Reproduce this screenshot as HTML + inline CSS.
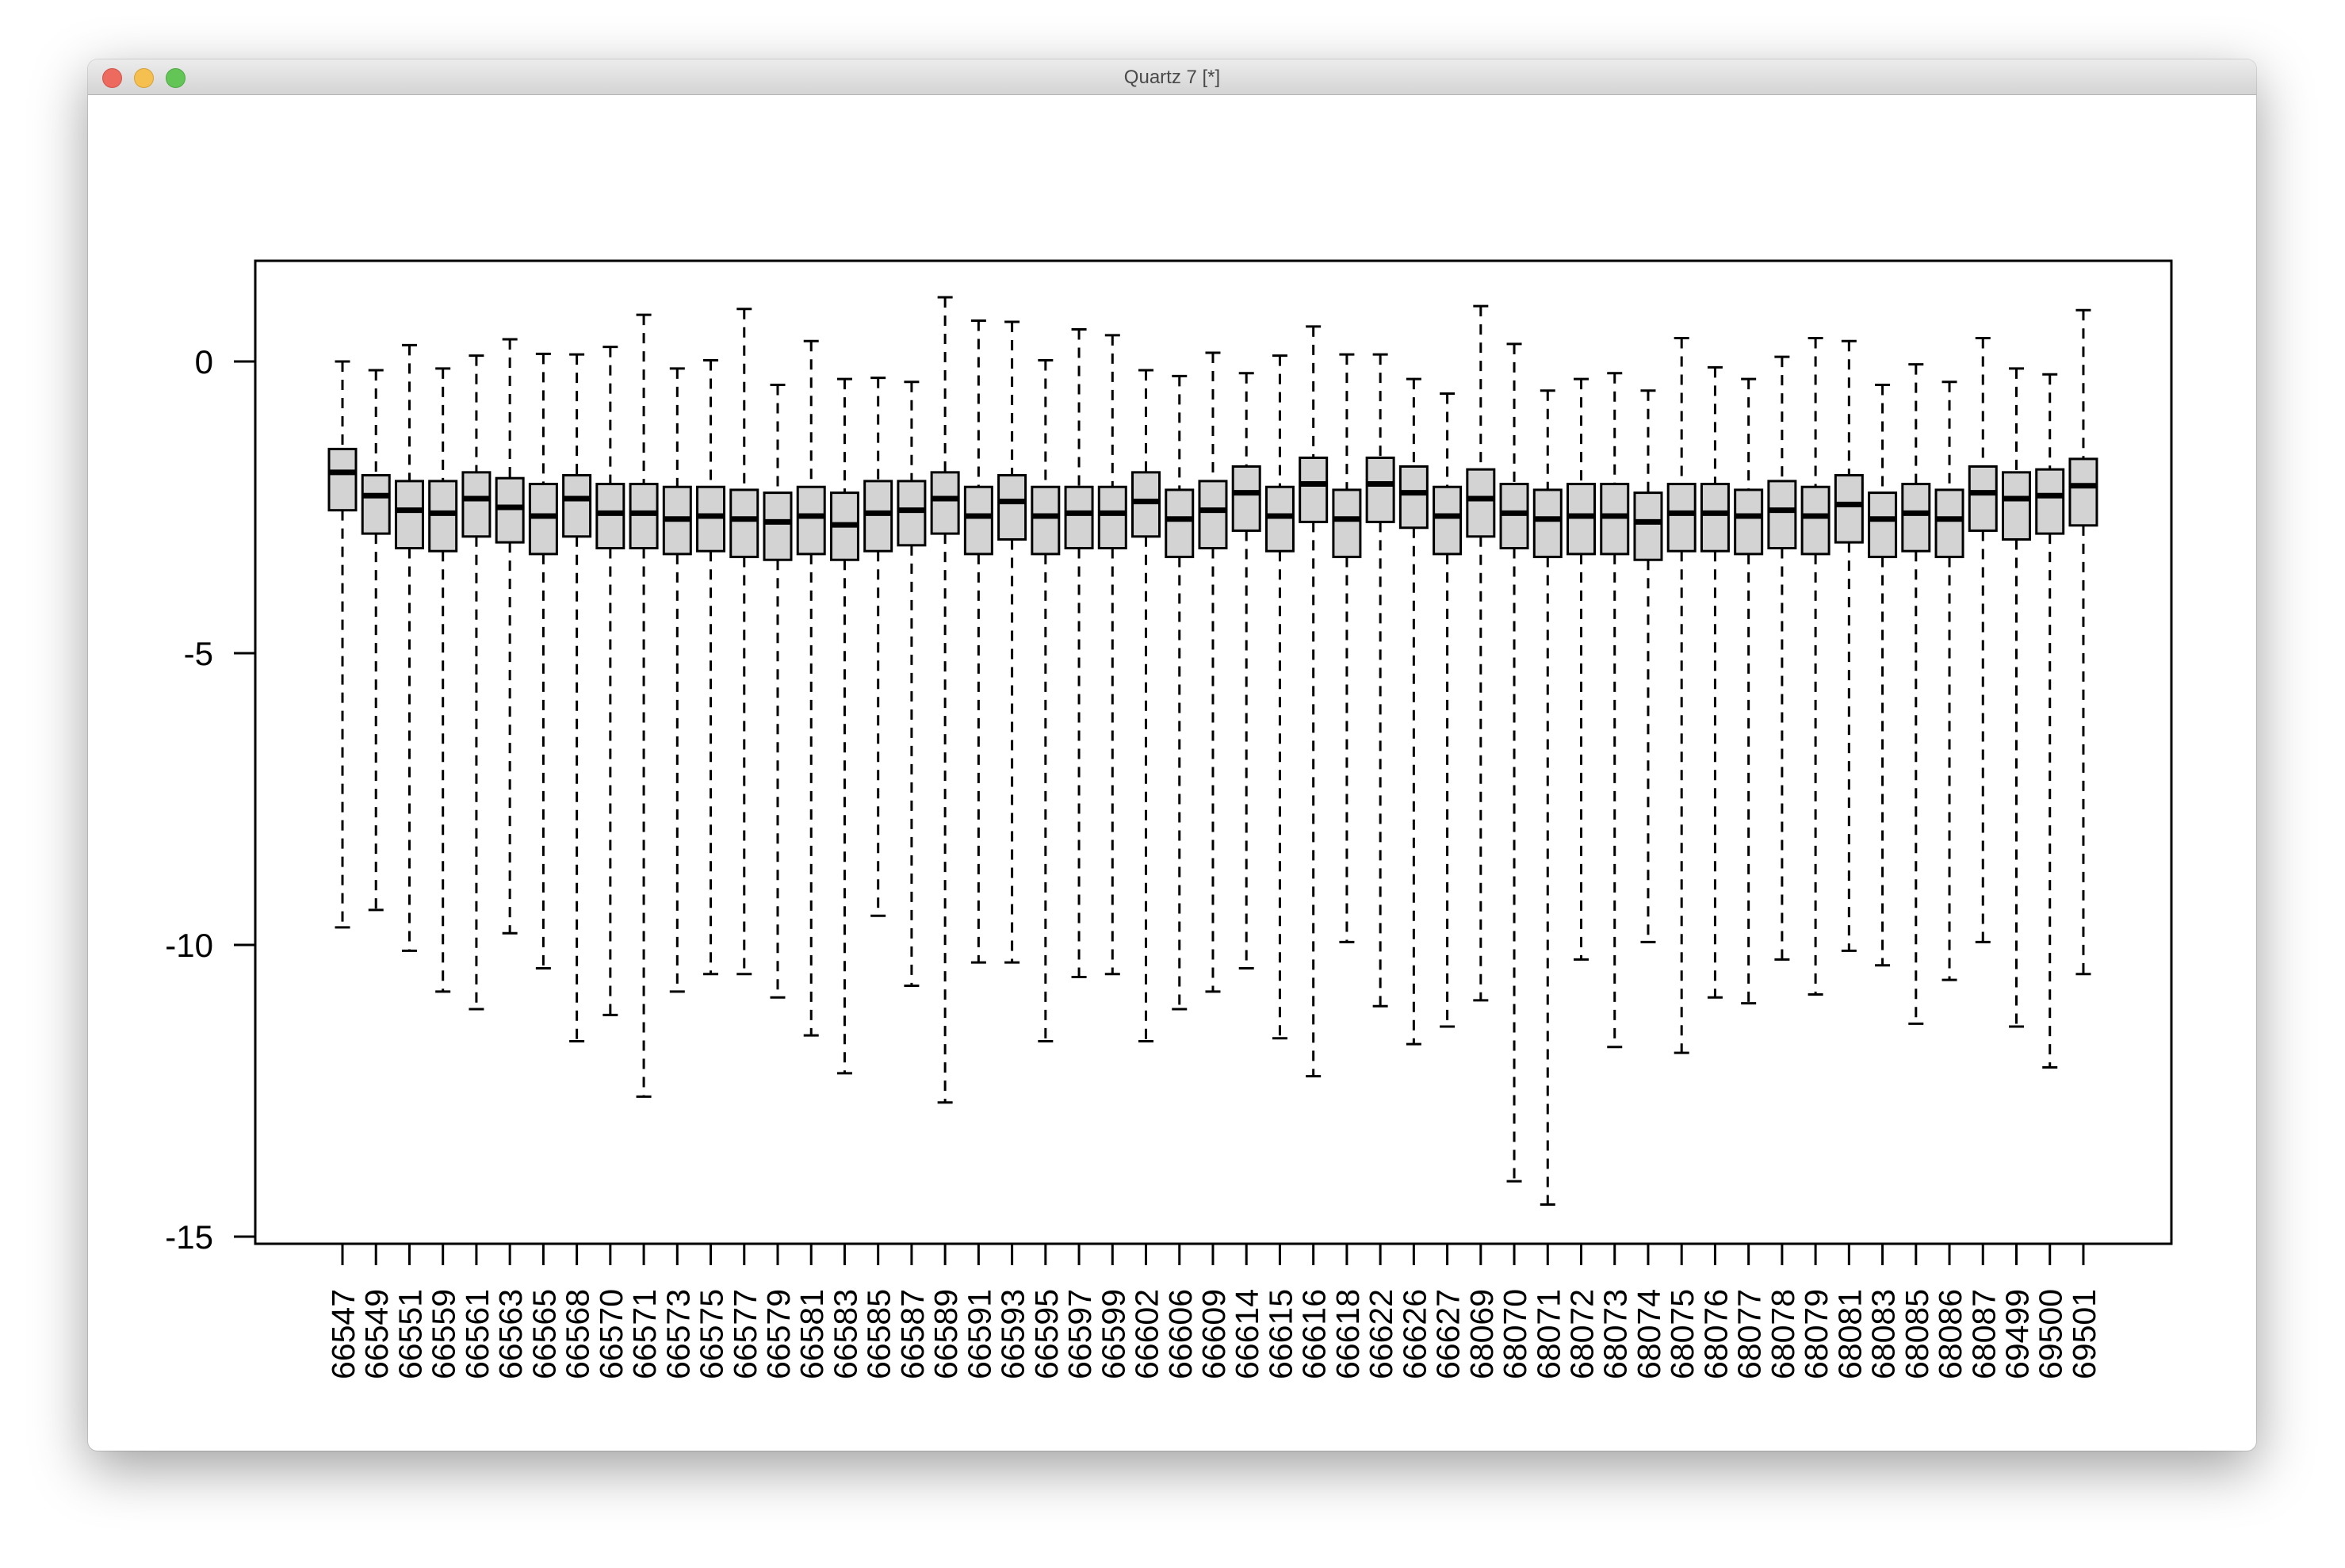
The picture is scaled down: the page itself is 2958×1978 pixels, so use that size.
<!DOCTYPE html>
<html><head><meta charset="utf-8">
<style>
html,body{margin:0;padding:0;background:#fff;}
body{width:2958px;height:1978px;position:relative;overflow:hidden;font-family:"Liberation Sans",Arial,sans-serif;}
#win{position:absolute;left:111px;top:75px;width:2735px;height:1755px;background:#fff;border-radius:12px;box-shadow:0 22px 70px rgba(0,0,0,0.38),0 0 0 1px rgba(0,0,0,0.12);overflow:hidden;}
#bar{position:absolute;left:0;top:0;width:100%;height:44px;background:linear-gradient(#ececec,#d4d4d4);border-bottom:1px solid #b2b2b2;}
.dot{position:absolute;top:11px;width:23px;height:23px;border-radius:50%;}
#title{position:absolute;left:0;right:0;top:9px;text-align:center;font-size:24px;color:#4a4a4a;}
svg{position:absolute;left:0;top:0;}
</style></head>
<body>
<div id="win">
  <div id="bar">
    <div class="dot" style="left:18px;background:#ed6a5e;border:1px solid #d0534a"></div>
    <div class="dot" style="left:58px;background:#f5c04f;border:1px solid #d6a13a"></div>
    <div class="dot" style="left:98px;background:#62c555;border:1px solid #4ea843"></div>
    <div id="title">Quartz 7 [*]</div>
  </div>
</div>
<svg id="chart" width="2958" height="1978"></svg>
<script>
const categories=["66547","66549","66551","66559","66561","66563","66565","66568","66570","66571","66573","66575","66577","66579","66581","66583","66585","66587","66589","66591","66593","66595","66597","66599","66602","66606","66609","66614","66615","66616","66618","66622","66626","66627","68069","68070","68071","68072","68073","68074","68075","68076","68077","68078","68079","68081","68083","68085","68086","68087","69499","69500","69501"];
const upperWhisker=[0.0,-0.15,0.28,-0.12,0.1,0.38,0.13,0.12,0.25,0.8,-0.12,0.02,0.9,-0.4,0.35,-0.3,-0.28,-0.35,1.1,0.7,0.68,0.02,0.55,0.45,-0.15,-0.25,0.15,-0.2,0.1,0.6,0.12,0.12,-0.3,-0.55,0.95,0.3,-0.5,-0.3,-0.2,-0.5,0.4,-0.1,-0.3,0.08,0.4,0.35,-0.4,-0.05,-0.35,0.4,-0.12,-0.22,0.88];
const q3=[-1.5,-1.95,-2.05,-2.05,-1.9,-2.0,-2.1,-1.95,-2.1,-2.1,-2.15,-2.15,-2.2,-2.25,-2.15,-2.25,-2.05,-2.05,-1.9,-2.15,-1.95,-2.15,-2.15,-2.15,-1.9,-2.2,-2.05,-1.8,-2.15,-1.65,-2.2,-1.65,-1.8,-2.15,-1.85,-2.1,-2.2,-2.1,-2.1,-2.25,-2.1,-2.1,-2.2,-2.05,-2.15,-1.95,-2.25,-2.1,-2.2,-1.8,-1.9,-1.85,-1.67];
const medians=[-1.9,-2.3,-2.55,-2.6,-2.35,-2.5,-2.65,-2.35,-2.6,-2.6,-2.7,-2.65,-2.7,-2.75,-2.65,-2.8,-2.6,-2.55,-2.35,-2.65,-2.4,-2.65,-2.6,-2.6,-2.4,-2.7,-2.55,-2.25,-2.65,-2.1,-2.7,-2.1,-2.25,-2.65,-2.35,-2.6,-2.7,-2.65,-2.65,-2.75,-2.6,-2.6,-2.65,-2.55,-2.65,-2.45,-2.7,-2.6,-2.7,-2.25,-2.35,-2.3,-2.13];
const q1=[-2.55,-2.95,-3.2,-3.25,-3.0,-3.1,-3.3,-3.0,-3.2,-3.2,-3.3,-3.25,-3.35,-3.4,-3.3,-3.4,-3.25,-3.15,-2.95,-3.3,-3.05,-3.3,-3.2,-3.2,-3.0,-3.35,-3.2,-2.9,-3.25,-2.75,-3.35,-2.75,-2.85,-3.3,-3.0,-3.2,-3.35,-3.3,-3.3,-3.4,-3.25,-3.25,-3.3,-3.2,-3.3,-3.1,-3.35,-3.25,-3.35,-2.9,-3.05,-2.95,-2.81];
const lowerWhisker=[-9.7,-9.4,-10.1,-10.8,-11.1,-9.8,-10.4,-11.65,-11.2,-12.6,-10.8,-10.5,-10.5,-10.9,-11.55,-12.2,-9.5,-10.7,-12.7,-10.3,-10.3,-11.65,-10.55,-10.5,-11.65,-11.1,-10.8,-10.4,-11.6,-12.25,-9.95,-11.05,-11.7,-11.4,-10.95,-14.05,-14.45,-10.25,-11.75,-9.95,-11.85,-10.9,-11.0,-10.25,-10.85,-10.1,-10.35,-11.35,-10.6,-9.95,-11.4,-12.1,-10.5];
const yTicks=[0,-5,-10,-15];

const svg=document.getElementById('chart');
const NS='http://www.w3.org/2000/svg';
const L=322,R=2739,T=329,B=1569;
const yPos=v=>456+(0-v)*73.6;
const xPos=i=>432+i*42.23;
function mk(tag,attrs,parent){const e=document.createElementNS(NS,tag);for(const k in attrs)e.setAttribute(k,attrs[k]);(parent||svg).appendChild(e);return e;}

const frame=mk('rect',{x:L,y:T,width:R-L,height:B-T,fill:'none',stroke:'#000','stroke-width':3});



yTicks.forEach(v=>{
  const y=yPos(v);
  const t=mk('line',{x1:295,x2:L,y1:y,y2:y,stroke:'#000','stroke-width':3});
  
  
  const tx=mk('text',{x:269,y:y+15,'text-anchor':'end','font-size':42,fill:'#000','font-family':'Liberation Sans, Arial, sans-serif'});
  tx.textContent=String(v);
  
  
});

const hw=17,cw=9.5;
categories.forEach((c,i)=>{
  const x=xPos(i);
  const g=mk('g',{});
  
  
  mk('line',{x1:x,x2:x,y1:yPos(upperWhisker[i]),y2:yPos(q3[i]),stroke:'#000','stroke-width':3,'stroke-dasharray':'13,10'},g);
  mk('line',{x1:x,x2:x,y1:yPos(q1[i]),y2:yPos(lowerWhisker[i]),stroke:'#000','stroke-width':3,'stroke-dasharray':'13,10'},g);
  mk('line',{x1:x-cw,x2:x+cw,y1:yPos(upperWhisker[i]),y2:yPos(upperWhisker[i]),stroke:'#000','stroke-width':3},g);
  mk('line',{x1:x-cw,x2:x+cw,y1:yPos(lowerWhisker[i]),y2:yPos(lowerWhisker[i]),stroke:'#000','stroke-width':3},g);
  mk('rect',{x:x-hw,y:yPos(q3[i]),width:hw*2,height:yPos(q1[i])-yPos(q3[i]),fill:'#d3d3d3',stroke:'#000','stroke-width':3},g);
  mk('line',{x1:x-hw,x2:x+hw,y1:yPos(medians[i]),y2:yPos(medians[i]),stroke:'#000','stroke-width':7},g);
  const tk=mk('line',{x1:x,x2:x,y1:B,y2:1596,stroke:'#000','stroke-width':3});
  
  
  const lb=mk('text',{x:0,y:0,'text-anchor':'end','font-size':41,fill:'#000','font-family':'Liberation Sans, Arial, sans-serif',transform:'translate('+(x+15)+',1626) rotate(-90)'});
  lb.textContent=c;
  
  
});
</script>
</body></html>
